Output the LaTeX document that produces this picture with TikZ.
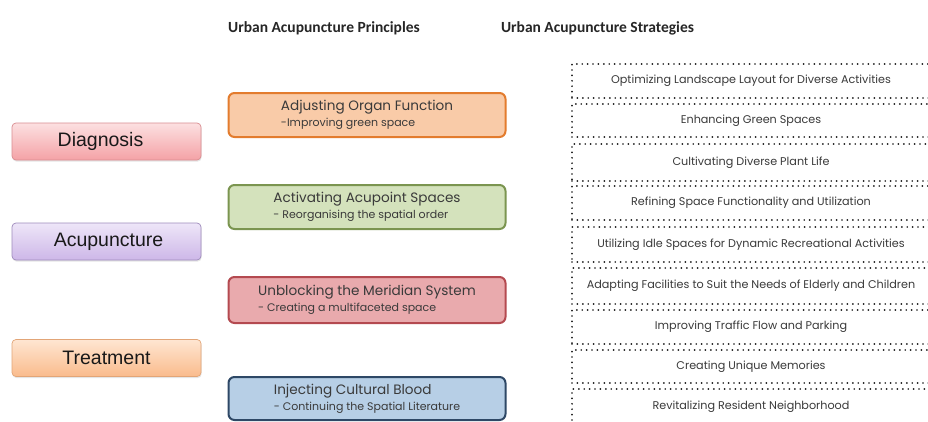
\documentclass[tikz,border=0pt]{standalone}
\usepackage{fontspec}
\usetikzlibrary{shadows}
\newfontfamily\labfont{Liberation Sans}
\newfontfamily\hdrfont{Carlito}
\newfontfamily\geofont{Poppins}
\definecolor{dgTop}{HTML}{FCE0E1}
\definecolor{dgBot}{HTML}{F4A2A6}
\definecolor{dgLine}{HTML}{D98D91}
\definecolor{acTop}{HTML}{EEE6F8}
\definecolor{acBot}{HTML}{CDB7E8}
\definecolor{acLine}{HTML}{9E8BBB}
\definecolor{trTop}{HTML}{FEE6D2}
\definecolor{trBot}{HTML}{FABB8C}
\definecolor{trLine}{HTML}{E2A577}
\definecolor{p1Fill}{HTML}{F9CBA8}
\definecolor{p1Line}{HTML}{E37C2E}
\definecolor{p2Fill}{HTML}{D4E2BC}
\definecolor{p2Line}{HTML}{7B9550}
\definecolor{p3Fill}{HTML}{E9AAAD}
\definecolor{p3Line}{HTML}{B44A50}
\definecolor{p4Fill}{HTML}{B7CFE6}
\definecolor{p4Line}{HTML}{2E4866}
\definecolor{txt}{HTML}{3A3A3A}
\newcommand{\ptitle}[1]{{\geofont\fontsize{13.6}{16}\selectfont #1}}
\newcommand{\psub}[1]{{\geofont\fontsize{11}{16}\selectfont #1}}
\begin{document}
\begin{tikzpicture}[x=1pt,y=-1pt,
  stagebox/.style={draw=#1Line, line width=0.7pt, rounded corners=4pt,
    top color=#1Top, bottom color=#1Bot, minimum width=189pt, minimum height=37pt,
    font=\labfont\fontsize{19.5}{22}\selectfont, text=black!90,
    drop shadow={opacity=0.2, shadow xshift=0.6pt, shadow yshift=-1.6pt}},
  princbox/.style={draw=#1Line, fill=#1Fill, line width=2pt, rounded corners=6pt,
    minimum width=277pt, minimum height=44pt, align=left, text=txt,
    inner sep=0pt, font=\geofont\fontsize{11}{16}\selectfont},
  stratbox/.style={draw=black!90, line width=1.9pt, dash pattern=on 0pt off 5.4pt,
    line cap=round, minimum width=358pt, minimum height=#1, inner sep=0pt,
    font=\geofont\fontsize{11.2}{13}\selectfont, text=txt},
  hdr/.style={font=\hdrfont\bfseries\fontsize{15.5}{18}\selectfont, text=black!85}
]
\useasboundingbox (0,0) rectangle (928,421);
\clip (0,0) rectangle (928,421);
\fill[white] (0,0) rectangle (928,421);

% headers
\node[hdr] (h1) at (324,28) {Urban Acupuncture Principles};
\node[hdr] (h2) at (597.5,28) {Urban Acupuncture Strategies};

% left stages
\node[stagebox=dg] (diag) at (106.5,141.5) {\hspace*{-12pt}Diagnosis};
\node[stagebox=ac] (acu) at (106.5,241.5) {\hspace*{4pt}Acupuncture};
\node[stagebox=tr] (treat) at (106.5,358) {Treatment};

% principles
\node[princbox=p1] (p1) at (367,115) {\ptitle{Adjusting Organ Function}\\\psub{-Improving green space}};
\node[princbox=p2] (p2) at (367,207) {\ptitle{Activating Acupoint Spaces}\\\psub{- Reorganising the spatial order}};
\node[princbox=p3, minimum height=46pt] (p3) at (367,300) {\ptitle{Unblocking the Meridian System}\\\psub{- Creating a multifaceted space}};
\node[princbox=p4, minimum height=43pt] (p4) at (367,398.5) {\ptitle{Injecting Cultural Blood}\\\psub{- Continuing the Spatial Literature}};

% strategies
\node[stratbox=34pt] (s1) at (751,81) {Optimizing Landscape Layout for Diverse Activities};
\node[stratbox=33pt] (s2) at (751,120.5) {Enhancing Green Spaces};
\node[stratbox=37pt] (s3) at (751,162.5) {Cultivating Diverse Plant Life};
\node[stratbox=34pt] (s4) at (751,203) {Refining Space Functionality and Utilization};
\node[stratbox=35pt] (s5) at (751,244.5) {Utilizing Idle Spaces for Dynamic Recreational Activities};
\node[stratbox=36pt] (s6) at (751,286) {Adapting Facilities to Suit the Needs of Elderly and Children};
\node[stratbox=34pt] (s7) at (751,327) {Improving Traffic Flow and Parking};
\node[stratbox=33pt] (s8) at (751,366.5) {Creating Unique Memories};
\node[stratbox=36pt] (s9) at (751,407) {Revitalizing Resident Neighborhood};
\end{tikzpicture}
\end{document}
